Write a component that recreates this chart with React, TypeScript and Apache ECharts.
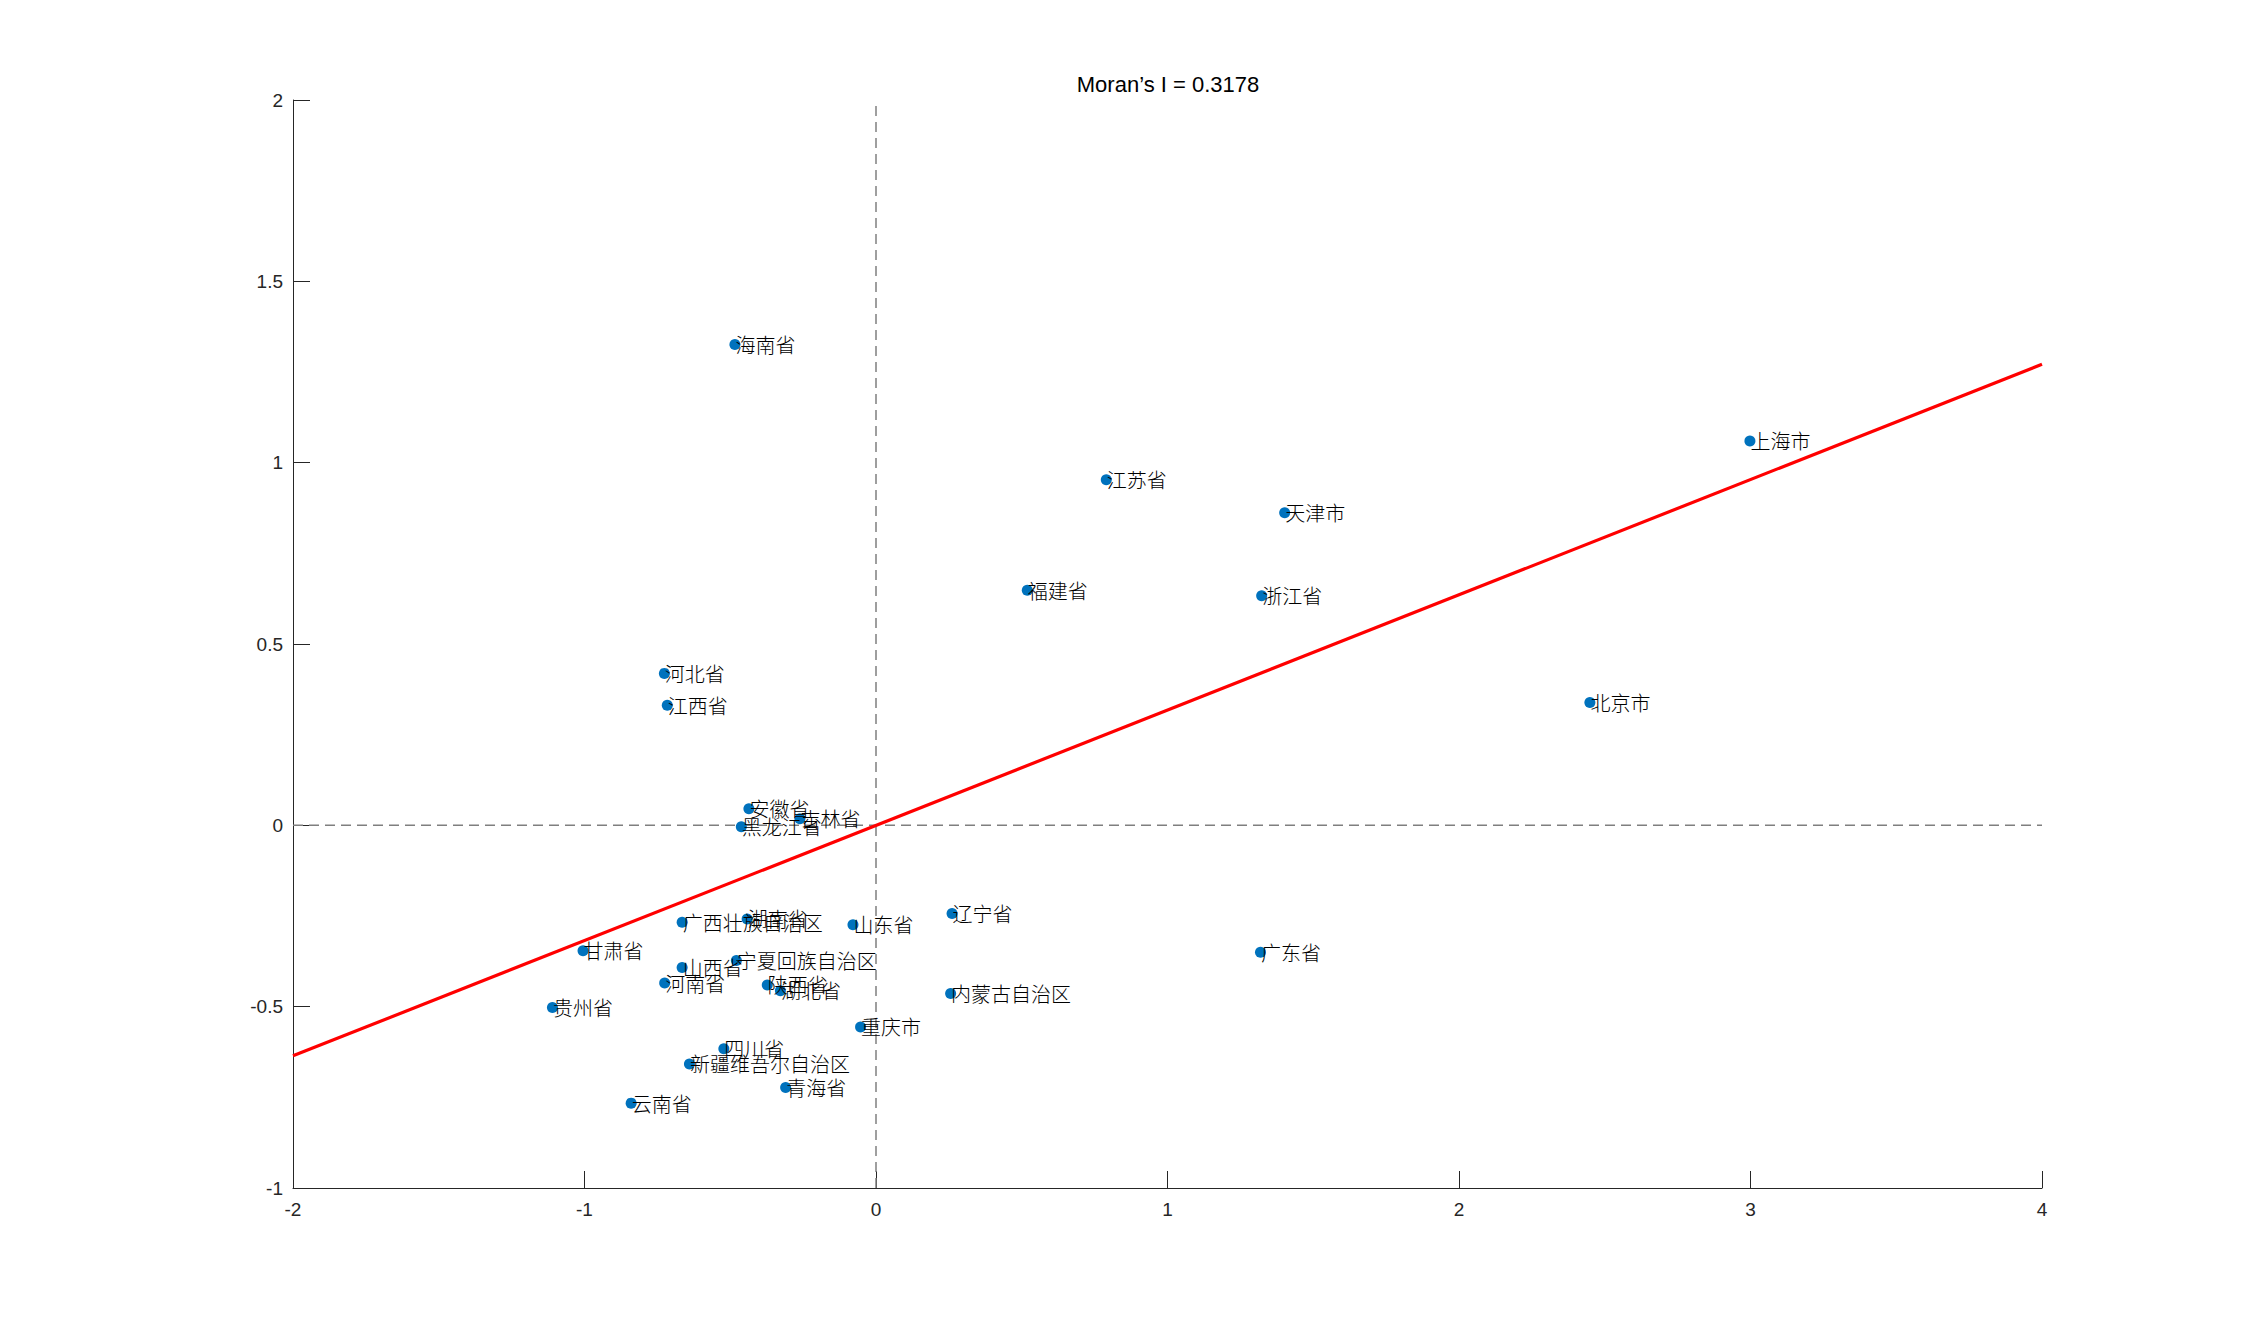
import React, { useEffect, useRef } from "react";
import * as echarts from "echarts";

const provinces = [
  "海南省", "上海市", "江苏省", "天津市", "福建省", "浙江省", "河北省", "江西省", "北京市",
  "安徽省", "吉林省", "黑龙江省", "辽宁省", "广西壮族自治区", "湖南省", "山东省", "甘肃省",
  "广东省", "山西省", "宁夏回族自治区", "河南省", "陕西省", "湖北省", "内蒙古自治区", "贵州省",
  "重庆市", "四川省", "新疆维吾尔自治区", "青海省", "云南省",
];
const zValues = [
  -0.484, 2.998, 0.790, 1.402, 0.519, 1.323, -0.726, -0.716, 2.449,
  -0.436, -0.261, -0.462, 0.261, -0.665, -0.442, -0.079, -1.005,
  1.319, -0.665, -0.479, -0.725, -0.373, -0.328, 0.256, -1.110,
  -0.053, -0.522, -0.640, -0.310, -0.840,
];
const lagValues = [
  1.326, 1.060, 0.953, 0.862, 0.648, 0.633, 0.419, 0.331, 0.339,
  0.046, 0.018, -0.004, -0.243, -0.267, -0.258, -0.274, -0.346,
  -0.350, -0.392, -0.373, -0.435, -0.440, -0.456, -0.464, -0.502,
  -0.556, -0.616, -0.658, -0.723, -0.766,
];
const fitLineX = [-2, 4];
const fitLineY = [-0.6356, 1.2712];
const xTicks = { min: -2, max: 4, interval: 1 };
const yTicks = { min: -1, max: 2, interval: 0.5 };
const titleText = "Moran’s I = 0.3178";

export default function App() {
  const ref = useRef<HTMLDivElement>(null);
  useEffect(() => {
    if (!ref.current) return;
    const chart = echarts.init(ref.current, undefined, { renderer: "svg" });
    const axisColor = "#262626";
    const tickFont = { color: axisColor, fontSize: 19, fontFamily: "Liberation Sans" };
    const points = provinces.map((name, i) => ({ name, value: [zValues[i], lagValues[i]] }));
    chart.setOption({
      animation: false,
      backgroundColor: "#ffffff",
      grid: { left: 293, top: 100, right: 214, bottom: 148, containLabel: false },
      graphic: [
        {
          type: "text",
          x: 1168,
          y: 84,
          style: {
            text: titleText,
            textAlign: "center",
            textVerticalAlign: "middle",
            fontSize: 22,
            fontFamily: "Liberation Sans",
            fill: "#000000",
          },
        },
      ],
      xAxis: {
        type: "value",
        min: xTicks.min,
        max: xTicks.max,
        interval: xTicks.interval,
        axisLine: { show: true, onZero: false, lineStyle: { color: axisColor, width: 1 } },
        axisTick: { show: true, inside: true, length: 17, lineStyle: { color: axisColor } },
        axisLabel: { ...tickFont, margin: 12 },
        splitLine: { show: false },
      },
      yAxis: {
        type: "value",
        min: yTicks.min,
        max: yTicks.max,
        interval: yTicks.interval,
        axisLine: { show: true, onZero: false, lineStyle: { color: axisColor, width: 1 } },
        axisTick: { show: true, inside: true, length: 17, lineStyle: { color: axisColor } },
        axisLabel: { ...tickFont, margin: 10 },
        splitLine: { show: false },
      },
      series: [
        {
          type: "line",
          data: [[0, yTicks.min], [0, yTicks.max]],
          symbol: "none",
          lineStyle: { color: "#7f7f7f", width: 1.5, type: [10, 6] },
          z: 1,
          silent: true,
        },
        {
          type: "line",
          data: [[xTicks.min, 0], [xTicks.max, 0]],
          symbol: "none",
          lineStyle: { color: "#7f7f7f", width: 1.5, type: [10, 6] },
          z: 1,
          silent: true,
        },
        {
          type: "line",
          data: fitLineX.map((x, i) => [x, fitLineY[i]]),
          symbol: "none",
          lineStyle: { color: "#ff0000", width: 3.2 },
          z: 2,
          silent: true,
        },
        {
          type: "scatter",
          data: points,
          symbol: "circle",
          symbolSize: 11,
          itemStyle: { color: "#0072bd", opacity: 1 },
          z: 3,
          label: {
            show: true,
            formatter: "{b}",
            position: "right",
            distance: -5,
            offset: [0, 2],
            color: "#000000",
            fontSize: 20,
            fontFamily: "Noto Sans CJK SC",
            fontWeight: 300,
            verticalAlign: "middle",
          },
          labelLayout: { hideOverlap: false },
        },
      ],
    });
    return () => chart.dispose();
  }, []);
  return (
    <div
      ref={ref}
      style={{ position: "fixed", left: 0, top: 0, width: 2256, height: 1336, background: "#fff" }}
    />
  );
}
